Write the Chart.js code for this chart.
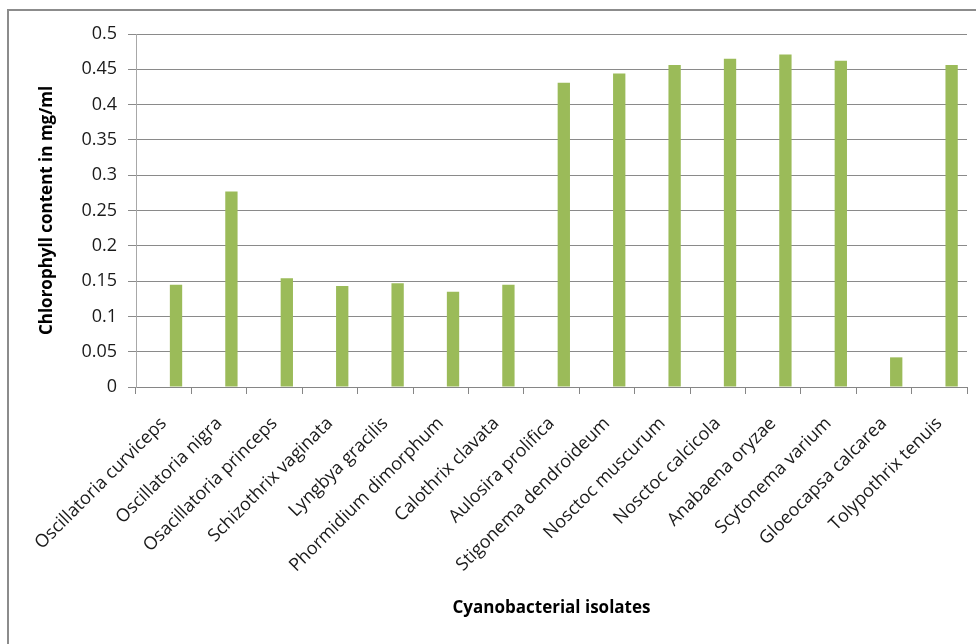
<!DOCTYPE html>
<html>
<head>
<meta charset="utf-8">
<script src="https://cdn.jsdelivr.net/npm/chart.js@4/dist/chart.umd.min.js"></script>
<style>
  html, body { margin: 0; padding: 0; background: #fff; }
  canvas { display: block; }
</style>
</head>
<body>
<canvas id="chart" width="976" height="644"></canvas>
<script>
// Isolates along the x axis
const isolates = [
  "Oscillatoria curviceps",
  "Oscillatoria nigra",
  "Osacillatoria princeps",
  "Schizothrix vaginata",
  "Lyngbya gracilis",
  "Phormidium dimorphum",
  "Calothrix clavata",
  "Aulosira prolifica",
  "Stigonema dendroideum",
  "Nosctoc muscurum",
  "Nosctoc calcicola",
  "Anabaena oryzae",
  "Scytonema varium",
  "Gloeocapsa calcarea",
  "Tolypothrix tenuis",
];

// Chlorophyll content (mg/ml)
const chlorophyll = [
  0.145, 0.277, 0.154, 0.143, 0.147, 0.135, 0.145,
  0.431, 0.444, 0.456, 0.465, 0.471, 0.462, 0.042, 0.456,
];

const yTicks = [0, 0.05, 0.1, 0.15, 0.2, 0.25, 0.3, 0.35, 0.4, 0.45, 0.5];

const FONT = "'Open Sans', Lato, sans-serif";

// Frame around the whole chart area (like the spreadsheet export)
const frame = {
  id: "frame",
  beforeDraw(chart) {
    const c = chart.ctx;
    c.save();
    c.fillStyle = "#fff";
    c.fillRect(0, 0, chart.width, chart.height);
    c.strokeStyle = "#8c8c8c";
    c.lineWidth = 2;
    c.strokeRect(8, 10, chart.width + 20, chart.height + 20);
    c.restore();
  },
};

new Chart(document.getElementById("chart"), {
  type: "bar",
  plugins: [frame],
  data: {
    labels: isolates,
    datasets: [
      // two empty series keep the slot layout of the original (bar sits third in its group)
      { label: "", data: [] },
      { label: "", data: [] },
      {
        label: "Chlorophyll content",
        data: chlorophyll,
        backgroundColor: "#9bbb59",
        borderWidth: 0,
      },
    ],
  },
  options: {
    responsive: false,
    animation: false,
    categoryPercentage: 0.667,
    barPercentage: 1,
    layout: { padding: { left: 0, top: 34, right: 9, bottom: 0 } },
    plugins: {
      legend: { display: false },
      tooltip: { enabled: false },
    },
    scales: {
      x: {
        afterFit(scale) { scale.height = 257; },
        grid: {
          drawOnChartArea: false,
          drawTicks: true,
          tickLength: 7,
          color: "#868686",
        },
        border: { color: "#868686", width: 1 },
        ticks: {
          autoSkip: false,
          minRotation: 45,
          maxRotation: 45,
          padding: 19,
          color: "#1a1a1a",
          font: { family: FONT, size: 18 },
        },
        title: {
          display: true,
          text: "Cyanobacterial isolates",
          color: "#000",
          font: { family: FONT, size: 17, weight: "bold" },
          padding: { top: 0, bottom: 26 },
        },
      },
      y: {
        min: 0,
        max: 0.5,
        afterFit(scale) { scale.width = 136; },
        afterBuildTicks(scale) { scale.ticks = yTicks.map(v => ({ value: v })); },
        grid: {
          color: "#8a8a8a",
          lineWidth: 1,
          tickLength: 8,
        },
        border: { color: "#a8a8a8", width: 1 },
        ticks: {
          padding: 11,
          color: "#1a1a1a",
          font: { family: FONT, size: 18 },
          callback: (v) => String(v),
        },
        title: {
          display: true,
          text: "Chlorophyll content in mg/ml",
          color: "#000",
          font: { family: FONT, size: 17, weight: "bold" },
          padding: { top: 37, bottom: 0 },
        },
      },
    },
  },
});
</script>
</body>
</html>
